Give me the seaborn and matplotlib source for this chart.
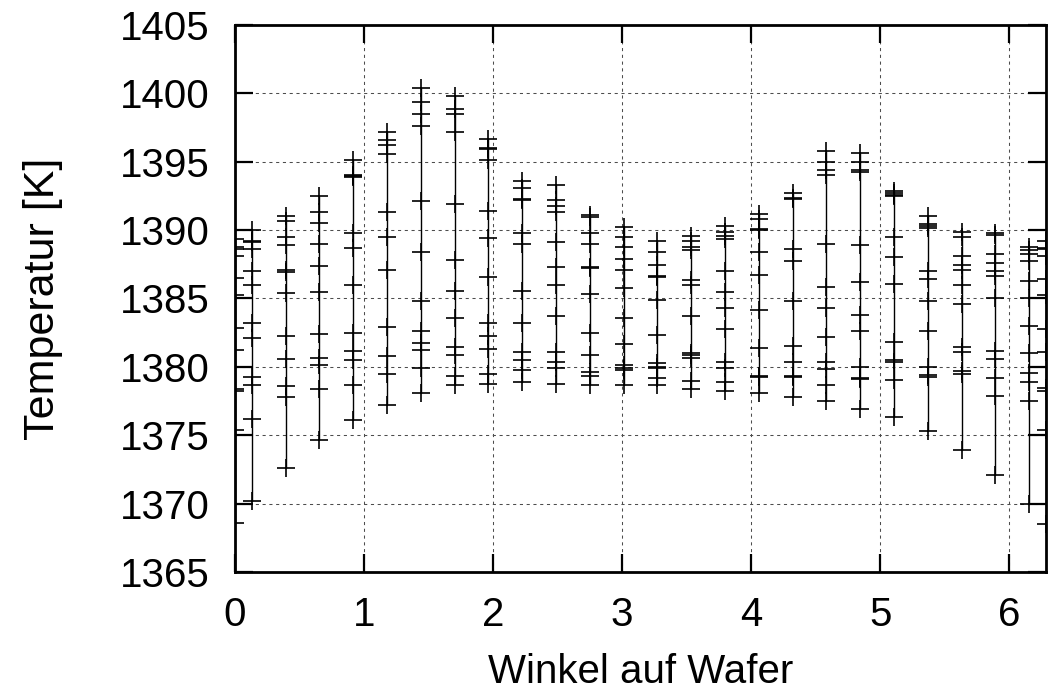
import numpy as np
import pandas as pd
import matplotlib
matplotlib.use("Agg")
import matplotlib.pyplot as plt
import seaborn as sns

# Angle positions of the measurement columns (rad)
angles = [0.0, 0.131, 0.393, 0.654, 0.916, 1.178, 1.440, 1.702, 1.963, 2.225,
          2.487, 2.749, 3.011, 3.272, 3.534, 3.796, 4.058, 4.320, 4.581, 4.843,
          5.105, 5.367, 5.629, 5.890, 6.152, 6.283]

# Temperatures per column [K]
col_00 = [1389.32, 1388.78, 1388.61, 1388.09, 1386.50, 1385.28, 1382.81, 1381.20, 1378.39, 1378.26, 1375.40, 1368.58]
col_01 = [1390.00, 1389.22, 1389.12, 1388.61, 1386.99, 1385.99, 1383.18, 1382.08, 1379.29, 1378.70, 1376.19, 1370.17]
col_02 = [1391.03, 1390.68, 1389.51, 1388.90, 1387.05, 1386.95, 1385.40, 1382.22, 1380.61, 1378.58, 1377.78, 1372.62]
col_03 = [1392.49, 1391.30, 1390.51, 1389.00, 1387.38, 1385.50, 1382.40, 1380.68, 1380.10, 1378.41, 1374.62]
col_04 = [1395.11, 1394.05, 1393.95, 1393.89, 1389.78, 1388.68, 1386.01, 1382.47, 1381.17, 1380.49, 1378.70, 1376.11]
col_05 = [1397.19, 1396.58, 1396.21, 1395.60, 1391.30, 1389.49, 1387.11, 1382.89, 1380.81, 1379.51, 1377.19]
col_06 = [1400.42, 1399.39, 1398.48, 1397.63, 1392.13, 1388.39, 1384.79, 1382.59, 1381.78, 1381.20, 1379.90, 1378.07]
col_07 = [1399.83, 1398.83, 1398.46, 1397.14, 1391.88, 1387.78, 1385.57, 1383.57, 1381.47, 1380.88, 1379.34, 1378.68]
col_08 = [1396.63, 1396.04, 1395.94, 1395.11, 1391.39, 1389.41, 1386.60, 1383.18, 1382.27, 1381.30, 1379.51, 1378.78]
col_09 = [1393.59, 1393.11, 1392.30, 1392.22, 1389.78, 1389.00, 1385.57, 1383.20, 1381.10, 1380.49, 1379.78, 1378.90]
col_10 = [1393.30, 1392.22, 1391.78, 1391.32, 1389.12, 1387.29, 1386.01, 1383.69, 1381.10, 1380.39, 1379.90, 1378.78]
col_11 = [1391.12, 1390.95, 1389.80, 1389.00, 1387.33, 1387.21, 1385.31, 1382.49, 1380.90, 1379.61, 1379.32, 1378.68]
col_12 = [1390.20, 1389.49, 1388.80, 1387.90, 1387.11, 1385.79, 1383.59, 1381.69, 1380.10, 1379.95, 1379.76, 1378.68]
col_13 = [1389.19, 1388.39, 1387.48, 1386.65, 1386.60, 1384.89, 1382.30, 1380.29, 1379.98, 1379.90, 1379.19, 1378.70]
col_14 = [1389.58, 1389.19, 1388.78, 1388.51, 1386.38, 1386.01, 1383.69, 1381.00, 1380.85, 1380.68, 1379.00, 1378.39]
col_15 = [1390.29, 1389.88, 1389.56, 1389.32, 1386.99, 1385.48, 1384.28, 1382.79, 1380.39, 1379.88, 1378.88, 1378.26]
col_16 = [1391.21, 1390.82, 1390.09, 1389.99, 1388.40, 1386.69, 1384.19, 1381.41, 1379.35, 1379.23, 1378.08]
col_17 = [1392.75, 1392.36, 1392.26, 1388.62, 1387.74, 1384.80, 1381.50, 1380.33, 1379.35, 1379.23, 1377.79]
col_18 = [1395.81, 1395.00, 1394.39, 1394.05, 1389.01, 1385.84, 1384.29, 1382.21, 1380.33, 1379.82, 1378.69, 1377.52]
col_19 = [1395.61, 1395.00, 1394.39, 1394.22, 1388.89, 1386.20, 1383.80, 1382.60, 1380.01, 1379.18, 1379.11, 1376.91]
col_20 = [1392.87, 1392.73, 1392.60, 1392.48, 1389.50, 1388.01, 1386.03, 1381.80, 1380.50, 1380.38, 1379.01, 1376.30]
col_21 = [1391.03, 1390.42, 1390.27, 1390.17, 1386.99, 1386.41, 1384.79, 1382.59, 1380.00, 1379.41, 1379.27, 1375.33]
col_22 = [1389.88, 1389.49, 1388.07, 1387.48, 1387.11, 1386.01, 1384.60, 1381.42, 1381.10, 1379.71, 1379.51, 1373.91]
col_23 = [1389.78, 1389.63, 1388.22, 1387.60, 1387.04, 1386.63, 1385.01, 1381.17, 1380.61, 1379.19, 1377.87, 1372.08]
col_24 = [1388.80, 1388.58, 1388.26, 1387.73, 1386.31, 1385.01, 1383.01, 1380.98, 1379.54, 1378.90, 1377.51, 1370.00]
col_25 = [1389.19, 1388.70, 1388.61, 1388.09, 1386.41, 1385.28, 1382.76, 1381.10, 1378.48, 1378.26, 1375.40, 1368.53]

columns = [col_00, col_01, col_02, col_03, col_04, col_05, col_06, col_07, col_08,
           col_09, col_10, col_11, col_12, col_13, col_14, col_15, col_16, col_17,
           col_18, col_19, col_20, col_21, col_22, col_23, col_24, col_25]

x_ticks = [0, 1, 2, 3, 4, 5, 6]
y_ticks = [1365, 1370, 1375, 1380, 1385, 1390, 1395, 1400, 1405]

rows = []
for i, (a, temps) in enumerate(zip(angles, columns)):
    for t in temps:
        rows.append({"angle": a, "temp": t, "col": i})
df = pd.DataFrame(rows)

sns.set_style("ticks")
plt.rcParams["font.family"] = ["Liberation Sans", "DejaVu Sans"]

fig = plt.figure(figsize=(10.49, 6.96), dpi=100)
ax = fig.add_axes([0.2240, 0.1782, 0.7731, 0.7859])

sns.lineplot(data=df, x="angle", y="temp", units="col", estimator=None,
             color="black", linewidth=1.0, marker="+", markersize=13,
             markeredgewidth=1.2, markeredgecolor="black", ax=ax, legend=False)

ax.set_xlim(0, 2 * np.pi)
ax.set_ylim(1365, 1405)
ax.set_xticks(x_ticks)
ax.set_yticks(y_ticks)
ax.set_xticklabels([str(v) for v in x_ticks])
ax.set_yticklabels([str(v) for v in y_ticks])

ax.grid(True, color="0.3", linestyle=(0, (3, 3.5)), linewidth=0.75)
ax.set_axisbelow(True)

for s in ax.spines.values():
    s.set_visible(True)
    s.set_linewidth(2.0)
    s.set_color("black")

ax.tick_params(axis="both", which="major", direction="in", length=13, width=1.6,
               top=True, right=True, labelsize=29, colors="black")
ax.tick_params(axis="x", pad=17)
ax.tick_params(axis="y", pad=18)

ax.set_xlabel("Winkel auf Wafer", fontsize=29, labelpad=14, color="black")
ax.set_ylabel("Temperatur [K]", fontsize=31, labelpad=41, color="black")

fig.savefig("out.png", dpi=100)
